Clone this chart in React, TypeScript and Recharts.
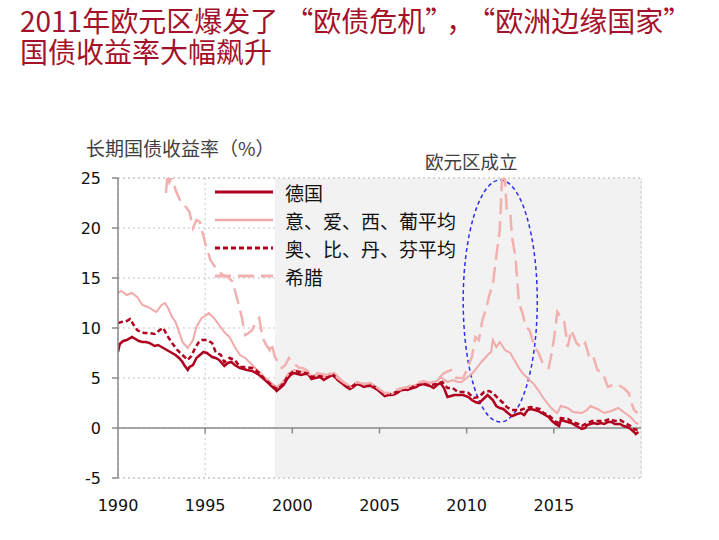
import { CartesianGrid, Line, LineChart, ReferenceArea, ReferenceLine, XAxis, YAxis } from "recharts";

// [year, yield %]
const germany: [number, number][] = [
  [1990.0, 7.6], [1990.1, 8.4], [1990.3, 8.7], [1990.5, 8.8], [1990.8, 9.1], [1991.0, 8.9], [1991.2, 8.7],
  [1991.4, 8.6], [1991.6, 8.6], [1991.8, 8.5], [1992.1, 8.2], [1992.3, 8.3], [1992.5, 8.1], [1992.8, 7.8],
  [1993.1, 7.5], [1993.3, 7.3], [1993.5, 7.0], [1993.7, 6.6], [1993.8, 6.3], [1994.0, 5.8], [1994.1, 6.1],
  [1994.3, 6.3], [1994.5, 7.0], [1994.7, 7.3], [1994.9, 7.6], [1995.1, 7.5], [1995.4, 7.1], [1995.6, 7.0],
  [1995.8, 6.8], [1996.1, 6.2], [1996.3, 6.5], [1996.5, 6.6], [1996.7, 6.3], [1997.0, 6.0], [1997.2, 5.9],
  [1997.4, 5.8], [1997.7, 5.7], [1997.9, 5.5], [1998.1, 5.3], [1998.3, 5.0], [1998.5, 4.7], [1998.8, 4.2],
  [1999.0, 3.9], [1999.1, 3.7], [1999.3, 4.0], [1999.5, 4.3], [1999.7, 4.9], [1999.9, 5.3], [2000.1, 5.5],
  [2000.3, 5.4], [2000.5, 5.3], [2000.7, 5.4], [2000.9, 5.4], [2001.1, 4.9], [2001.3, 5.0], [2001.6, 5.1],
  [2001.8, 4.8], [2002.0, 5.0], [2002.3, 5.3], [2002.5, 5.0], [2002.6, 4.8], [2002.9, 4.4], [2003.1, 4.1],
  [2003.3, 3.9], [2003.5, 4.1], [2003.7, 4.4], [2003.9, 4.3], [2004.1, 4.1], [2004.3, 4.2], [2004.5, 4.2],
  [2004.7, 4.0], [2004.9, 3.8], [2005.1, 3.5], [2005.3, 3.2], [2005.5, 3.3], [2005.7, 3.3], [2005.9, 3.4],
  [2006.1, 3.6], [2006.3, 3.9], [2006.6, 3.8], [2006.9, 4.0], [2007.1, 4.1], [2007.3, 4.3], [2007.5, 4.4],
  [2007.7, 4.3], [2007.9, 4.2], [2008.1, 4.0], [2008.3, 4.3], [2008.5, 4.5], [2008.7, 4.0], [2008.9, 3.1],
  [2009.1, 3.2], [2009.3, 3.3], [2009.6, 3.3], [2009.8, 3.3], [2010.1, 3.1], [2010.3, 2.8], [2010.5, 2.6],
  [2010.7, 2.5], [2010.9, 2.8], [2011.2, 3.3], [2011.5, 2.8], [2011.7, 2.2], [2011.9, 2.0], [2012.1, 1.9],
  [2012.3, 1.6], [2012.5, 1.3], [2012.6, 1.2], [2012.9, 1.4], [2013.1, 1.5], [2013.3, 1.3], [2013.5, 1.8],
  [2013.7, 1.9], [2013.9, 1.8], [2014.1, 1.7], [2014.4, 1.4], [2014.7, 1.1], [2014.9, 0.7], [2015.1, 0.4],
  [2015.3, 0.2], [2015.4, 0.8], [2015.6, 0.7], [2015.8, 0.6], [2016.0, 0.5], [2016.2, 0.3], [2016.4, 0.1],
  [2016.6, -0.1], [2016.8, 0.0], [2016.9, 0.3], [2017.1, 0.4], [2017.3, 0.5], [2017.5, 0.4], [2017.7, 0.5],
  [2017.9, 0.4], [2018.1, 0.6], [2018.3, 0.6], [2018.5, 0.4], [2018.8, 0.4], [2019.0, 0.2], [2019.2, 0.1],
  [2019.4, -0.1], [2019.6, -0.4], [2019.7, -0.6], [2019.85, -0.4],
];

const periphery: [number, number][] = [
  [1990.0, 13.5], [1990.2, 13.7], [1990.5, 13.3], [1990.8, 13.5], [1991.1, 13.1], [1991.4, 12.3], [1991.7, 12.1],
  [1992.0, 11.8], [1992.2, 11.6], [1992.5, 12.3], [1992.7, 12.5], [1992.9, 11.9], [1993.1, 11.1], [1993.3, 10.6],
  [1993.5, 9.6], [1993.7, 8.6], [1994.0, 8.0], [1994.3, 8.8], [1994.5, 10.1], [1994.8, 11.0], [1995.0, 11.2],
  [1995.2, 11.5], [1995.5, 11.0], [1995.8, 10.3], [1996.1, 9.6], [1996.4, 9.1], [1996.7, 8.1], [1997.0, 7.3],
  [1997.3, 7.0], [1997.7, 6.3], [1998.1, 5.6], [1998.4, 5.1], [1998.8, 4.5], [1999.1, 4.1], [1999.4, 4.5],
  [1999.8, 5.5], [2000.1, 5.8], [2000.4, 5.7], [2000.8, 5.6], [2001.1, 5.2], [2001.5, 5.4], [2001.8, 5.1],
  [2002.1, 5.3], [2002.4, 5.5], [2002.7, 5.0], [2003.0, 4.5], [2003.4, 4.1], [2003.7, 4.6], [2004.1, 4.4],
  [2004.5, 4.5], [2004.9, 4.0], [2005.3, 3.4], [2005.7, 3.4], [2006.1, 3.8], [2006.6, 4.0], [2006.9, 4.2],
  [2007.5, 4.6], [2007.9, 4.5], [2008.3, 4.7], [2008.5, 5.1], [2008.9, 4.6], [2009.2, 4.8], [2009.5, 4.6],
  [2009.7, 4.6], [2010.0, 5.0], [2010.4, 5.6], [2010.8, 6.5], [2011.2, 7.3], [2011.4, 7.6], [2011.5, 8.8],
  [2011.7, 8.1], [2011.9, 8.6], [2012.2, 7.8], [2012.5, 7.5], [2012.8, 6.6], [2013.0, 6.0], [2013.2, 5.5],
  [2013.6, 4.8], [2013.8, 4.5], [2014.1, 3.8], [2014.4, 3.0], [2014.8, 2.1], [2015.1, 1.6], [2015.2, 1.5],
  [2015.4, 2.2], [2015.8, 2.0], [2016.1, 1.6], [2016.6, 1.5], [2016.9, 1.8], [2017.1, 2.2], [2017.5, 1.9],
  [2017.9, 1.5], [2018.3, 1.7], [2018.7, 2.0], [2019.0, 1.6], [2019.4, 1.1], [2019.7, 0.5], [2019.85, 0.4],
];

const core: [number, number][] = [
  [1990.0, 10.5], [1990.2, 10.6], [1990.5, 10.7], [1990.7, 10.9], [1990.9, 10.3], [1991.1, 9.8], [1991.3, 9.6],
  [1991.5, 9.5], [1991.8, 9.5], [1992.1, 9.4], [1992.4, 9.8], [1992.6, 10.0], [1992.8, 9.3], [1993.1, 8.5],
  [1993.4, 7.8], [1993.7, 7.3], [1994.0, 6.8], [1994.2, 7.2], [1994.4, 7.9], [1994.6, 8.5], [1994.8, 8.8],
  [1995.1, 8.8], [1995.4, 8.5], [1995.6, 7.6], [1995.9, 7.3], [1996.1, 6.6], [1996.4, 7.0], [1996.7, 6.8],
  [1997.0, 6.1], [1997.3, 6.1], [1997.7, 6.0], [1997.9, 5.8], [1998.1, 5.5], [1998.4, 4.9], [1998.8, 4.3],
  [1999.0, 4.0], [1999.2, 3.9], [1999.5, 4.5], [1999.8, 5.3], [2000.1, 5.7], [2000.4, 5.6], [2000.7, 5.5],
  [2000.9, 5.5], [2001.1, 5.1], [2001.4, 5.2], [2001.7, 5.2], [2002.0, 5.1], [2002.3, 5.4], [2002.6, 4.9],
  [2002.9, 4.5], [2003.3, 4.0], [2003.7, 4.5], [2004.1, 4.2], [2004.5, 4.3], [2004.9, 3.9], [2005.3, 3.3],
  [2005.7, 3.4], [2006.1, 3.7], [2006.6, 3.9], [2006.9, 4.1], [2007.5, 4.5], [2007.9, 4.3], [2008.3, 4.4],
  [2008.6, 4.6], [2008.9, 4.0], [2009.2, 4.0], [2009.5, 3.6], [2009.8, 3.6], [2010.1, 3.5], [2010.4, 3.0],
  [2010.7, 3.1], [2011.0, 3.6], [2011.3, 3.7], [2011.5, 3.5], [2011.9, 2.8], [2012.1, 2.5], [2012.3, 2.1],
  [2012.6, 1.8], [2012.9, 1.8], [2013.1, 1.8], [2013.4, 2.0], [2013.7, 2.1], [2013.9, 2.0], [2014.2, 1.9],
  [2014.4, 1.5], [2014.7, 1.3], [2015.0, 0.8], [2015.2, 0.5], [2015.4, 1.0], [2015.8, 0.9], [2016.1, 0.6],
  [2016.4, 0.4], [2016.6, 0.2], [2016.9, 0.5], [2017.2, 0.7], [2017.5, 0.7], [2017.9, 0.7], [2018.2, 0.9],
  [2018.5, 0.7], [2018.8, 0.8], [2019.1, 0.5], [2019.4, 0.2], [2019.6, -0.1], [2019.8, -0.2],
];

const greece: [number, number][] = [
  [1992.75, 23.5], [1992.85, 25.5], [1992.95, 24.6], [1993.1, 25.2], [1993.3, 23.8], [1993.6, 22.6], [1993.9, 22.1],
  [1994.1, 21.6], [1994.3, 20.0], [1994.5, 20.8], [1994.7, 20.6], [1995.0, 18.5], [1995.3, 16.8], [1995.6, 16.0],
  [1996.0, 15.3], [1996.3, 15.1], [1996.6, 14.6], [1996.7, 13.8], [1996.9, 12.5], [1997.1, 11.1], [1997.2, 10.1],
  [1997.3, 9.3], [1997.5, 9.5], [1997.7, 9.8], [1997.9, 10.6], [1998.1, 11.0], [1998.3, 9.0], [1998.5, 8.3],
  [1998.7, 7.8], [1998.8, 8.5], [1999.0, 7.1], [1999.2, 6.5], [1999.4, 6.0], [1999.6, 6.3], [1999.8, 7.0],
  [2000.0, 6.6], [2000.4, 6.0], [2000.6, 6.0], [2001.0, 5.6], [2001.4, 5.5], [2001.7, 5.4], [2002.0, 5.3],
  [2002.3, 5.6], [2002.6, 5.0], [2002.9, 4.6], [2003.3, 4.2], [2003.7, 4.6], [2004.1, 4.4], [2004.5, 4.5],
  [2004.9, 4.0], [2005.3, 3.5], [2005.7, 3.5], [2006.1, 3.9], [2006.6, 4.1], [2006.9, 4.3], [2007.5, 4.7],
  [2007.9, 4.5], [2008.3, 4.8], [2008.7, 5.5], [2009.1, 5.8], [2009.4, 5.0], [2009.8, 5.0], [2010.0, 5.8],
  [2010.3, 7.1], [2010.5, 9.1], [2010.7, 8.8], [2010.9, 10.8], [2011.1, 11.8], [2011.3, 13.3], [2011.5, 14.3],
  [2011.6, 15.8], [2011.8, 18.5], [2011.9, 19.8], [2012.0, 23.8], [2012.1, 27.0], [2012.2, 24.8], [2012.3, 21.8],
  [2012.5, 21.5], [2012.6, 19.1], [2012.8, 17.1], [2013.0, 12.5], [2013.2, 11.5], [2013.4, 10.1], [2013.6, 9.8],
  [2013.9, 8.1], [2014.1, 7.6], [2014.4, 6.3], [2014.7, 6.0], [2014.8, 6.8], [2015.0, 8.8], [2015.2, 11.6],
  [2015.4, 11.1], [2015.6, 10.6], [2015.8, 8.1], [2016.0, 9.8], [2016.3, 8.5], [2016.6, 8.0], [2016.8, 8.5],
  [2017.0, 7.3], [2017.2, 7.5], [2017.5, 5.8], [2017.8, 5.5], [2018.1, 4.1], [2018.4, 4.3], [2018.7, 4.3],
  [2019.0, 4.0], [2019.3, 3.5], [2019.4, 2.8], [2019.6, 1.8], [2019.8, 1.5],
];

const xTicks = [1990, 1995, 2000, 2005, 2010, 2015];
const yTicks = [-5, 0, 5, 10, 15, 20, 25];

const series = [
  { name: "德国", points: germany, color: "#b0001e", width: 2.5, dash: undefined },
  { name: "意、爱、西、葡平均", points: periphery, color: "#f2a9aa", width: 2, dash: undefined },
  { name: "奥、比、丹、芬平均", points: core, color: "#b0001e", width: 2.5, dash: "5 3" },
  { name: "希腊", points: greece, color: "#f2b0b0", width: 2.5, dash: "16 7" },
];

const tickFont = { fontSize: 16, fill: "#111", fontFamily: "DejaVu Sans" };
const cjk = '"Noto Sans CJK SC", sans-serif';
// quotes drawn full-width, as in the source slide
const openQ = { paddingLeft: 7 };
const closeQ = { paddingRight: 7 };

function LegendBox() {
  return (
    <div style={{ position: "absolute", left: 215, top: 178, fontFamily: cjk, fontSize: 19, color: "#111" }}>
      {series.map((s) => (
        <div key={s.name} style={{ display: "flex", alignItems: "center", height: 28 }}>
          <svg width={58} height={6} style={{ marginRight: 12 }}>
            <line x1={0} x2={58} y1={3} y2={3} stroke={s.color} strokeWidth={s.width + 0.5} strokeDasharray={s.dash} />
          </svg>
          <span>{s.name}</span>
        </div>
      ))}
    </div>
  );
}

function Ellipse(props: any) {
  const { x, y, width, height } = props;
  return (
    <ellipse
      cx={x + width / 2}
      cy={y + height / 2}
      rx={width / 2}
      ry={height / 2}
      fill="none"
      stroke="#2f2ff0"
      strokeWidth={1.5}
      strokeDasharray="4 3"
    />
  );
}

export default function App() {
  return (
    <div style={{ position: "absolute", left: 0, top: 0, width: 719, height: 540, background: "#fff" }}>
      <LineChart width={719} height={540} margin={{ top: 178, right: 78, bottom: 32, left: 68 }}>
        <CartesianGrid stroke="#c4c4c4" strokeDasharray="2 3" />
        <ReferenceArea x1={1999} x2={2020} y1={-5} y2={25} fill="#f2f2f2" fillOpacity={1} stroke="none" />
        <ReferenceLine y={25} stroke="#c4c4c4" strokeDasharray="2 3" />
        <ReferenceLine y={-5} stroke="#c4c4c4" strokeDasharray="2 3" />
        <ReferenceLine x={2020} stroke="#c4c4c4" strokeDasharray="2 3" />
        <ReferenceLine y={0} stroke="#8a8a8a" strokeWidth={1.5} />
        {xTicks.slice(1).map((t) => (
          <ReferenceLine key={t} segment={[{ x: t, y: 0 }, { x: t, y: -0.55 }]} stroke="#8a8a8a" strokeWidth={1.5} />
        ))}
        <XAxis
          type="number"
          dataKey="year"
          domain={[1990, 2020]}
          ticks={xTicks}
          axisLine={false}
          tickLine={false}
          tickSize={0}
          tickMargin={22}
          height={30}
          tick={tickFont}
          allowDataOverflow
        />
        <YAxis
          type="number"
          domain={[-5, 25]}
          ticks={yTicks}
          allowDataOverflow
          width={50}
          axisLine={{ stroke: "#8a8a8a", strokeWidth: 1.5 }}
          tickLine={{ stroke: "#8a8a8a", strokeWidth: 1.5 }}
          tickSize={6}
          tickMargin={11}
          tick={tickFont}
        />
        {series.map((s) => (
          <Line
            key={s.name}
            name={s.name}
            data={s.points.map(([year, v]) => ({ year, v }))}
            dataKey="v"
            stroke={s.color}
            strokeWidth={s.width}
            strokeDasharray={s.dash}
            dot={false}
            activeDot={false}
            isAnimationActive={false}
          />
        ))}
        <ReferenceArea x1={2009.8} x2={2014.05} y1={0.6} y2={24.8} shape={Ellipse} ifOverflow="visible" />
      </LineChart>

      <LegendBox />
      <div style={{ position: "absolute", left: 20, top: 5, fontFamily: cjk, fontSize: 28, lineHeight: "31px", color: "#a3122a", whiteSpace: "nowrap" }}>
        2011年欧元区爆发了<span style={openQ}>“</span>欧债危机<span style={closeQ}>”</span>，<span style={openQ}>“</span>欧洲边缘国家<span style={closeQ}>”</span>
        <br />
        国债收益率大幅飙升
      </div>
      <div style={{ position: "absolute", left: 86, top: 134, fontFamily: cjk, fontSize: 19, color: "#404040" }}>
        长期国债收益率（%）
      </div>
      <div style={{ position: "absolute", left: 425, top: 148, fontFamily: cjk, fontSize: 18.5, color: "#404040" }}>
        欧元区成立
      </div>
    </div>
  );
}
